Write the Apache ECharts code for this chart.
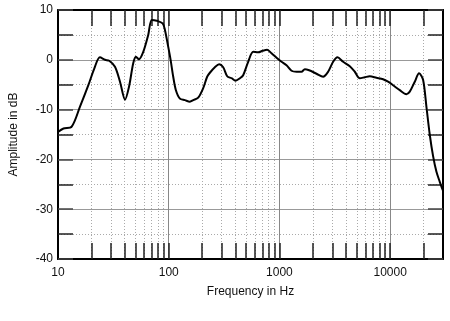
<!DOCTYPE html>
<html>
<head>
<meta charset="utf-8">
<script src="https://cdn.jsdelivr.net/npm/echarts@6/dist/echarts.min.js"></script>
<style>
  html, body { margin: 0; padding: 0; background: #fff; }
  #chart { width: 450px; height: 321px; }
</style>
</head>
<body>
<div id="chart"></div>
<script>
// frequency response
var freqs = [10, 11.2, 13.3, 15.8, 18.8, 21.3, 23.9, 26.6, 29.0, 32.7, 36.3, 40.3, 43.8, 47.8, 50.6, 53.8, 58.9,
  65.3, 70.3, 77.8, 88.1, 92.4, 99.0, 104, 109.8, 116.1, 126.2, 140, 155.4, 166.4, 184.6, 204.8, 222.4,
  235.3, 261, 285.6, 310.5, 337.4, 369.5, 401.6, 439.5, 470.2, 522, 579.5, 642.7, 703.3, 774, 848.5,
  941.5, 1044, 1158, 1285, 1426, 1582, 1694, 1853, 2162, 2480, 2752, 3054, 3343, 3758, 4318, 4791,
  5316, 5898, 6544, 7520, 8630, 9570, 10620, 12210, 14030, 15030, 16680, 18240, 19820, 21270, 22770,
  24390, 26180, 28050, 30000];
var amps = [-14.5, -13.8, -13.4, -9.4, -5.1, -1.7, 0.5, 0.0, -0.2, -1.4, -4.4, -8.0, -5.4, -0.7, 0.6, 0.1, 1.6,
  5.0, 8.0, 7.85, 7.3, 6.0, 2.6, 0.0, -3.4, -6.1, -7.8, -8.1, -8.4, -8.1, -7.6, -5.7, -3.4,
  -2.6, -1.5, -0.9, -1.5, -3.3, -3.7, -4.2, -3.7, -3.1, -0.4, 1.6, 1.5, 1.8, 2.0, 1.3,
  0.4, -0.4, -1.1, -2.2, -2.4, -2.4, -1.9, -2.1, -2.8, -3.4, -2.4, -0.4, 0.5, -0.4, -1.3, -2.4,
  -3.7, -3.5, -3.3, -3.6, -3.9, -4.4, -5.1, -6.1, -6.9, -6.4, -4.4, -2.7, -4.0, -9.5, -15.0,
  -19.3, -22.5, -24.5, -26.3];

var decades = [10, 100, 1000, 10000];
var allTicks = [20, 30, 40, 50, 60, 70, 80, 90, 100, 200, 300, 400, 500, 600, 700, 800, 900,
  1000, 2000, 3000, 4000, 5000, 6000, 7000, 8000, 9000, 10000, 20000];

var font = 'Liberation Sans';
var chart = echarts.init(document.getElementById('chart'));

var points = freqs.map(function (f, i) { return [f, amps[i]]; });

var baseX = {
  type: 'log', logBase: 10, min: 10, max: 30000
};
var edge = { show: true, onZero: false, lineStyle: { color: '#000', width: 2 } };

option = {
  animation: false,
  backgroundColor: '#fff',
  grid: { left: 58, right: 7, top: 10, bottom: 62, show: false },
  xAxis: [
    Object.assign({}, baseX, {
      position: 'bottom',
      name: 'Frequency in Hz', nameLocation: 'middle', nameGap: 27,
      nameTextStyle: { fontFamily: font, fontSize: 12, color: '#111' },
      axisLine: edge,
      axisTick: { show: true, inside: true, length: 16, customValues: allTicks, lineStyle: { color: '#222', width: 1.5 } },
      axisLabel: {
        customValues: decades, margin: 8, fontFamily: font, fontSize: 12, color: '#111',
        formatter: function (v) { return String(Math.round(v)); }
      },
      splitLine: { show: true, lineStyle: { color: '#aaa', type: [1, 2], width: 1 } }
    }),
    Object.assign({}, baseX, {
      position: 'top',
      axisLine: edge,
      axisTick: { show: true, inside: true, length: 16, customValues: allTicks, lineStyle: { color: '#222', width: 1.5 } },
      axisLabel: { show: false },
      splitLine: { show: false }
    }),
    Object.assign({}, baseX, {
      position: 'bottom',
      axisLine: { show: false, onZero: false },
      axisTick: { show: false, customValues: decades },
      axisLabel: { show: false },
      splitLine: { show: true, lineStyle: { color: '#888', width: 1 } }
    })
  ],
  yAxis: [
    {
      type: 'value', min: -40, max: 10, interval: 10, position: 'left',
      name: 'Amplitude in dB', nameLocation: 'middle', nameGap: 38,
      nameTextStyle: { fontFamily: font, fontSize: 12, color: '#111' },
      axisLine: edge,
      axisTick: { show: true, inside: true, length: 15, lineStyle: { color: '#444', width: 1.5 } },
      minorTick: { show: true, splitNumber: 2, length: 15, lineStyle: { color: '#222', width: 1.5 } },
      axisLabel: { margin: 5, fontFamily: font, fontSize: 12, color: '#111' },
      splitLine: { show: true, lineStyle: { color: '#999', width: 1 } },
      minorSplitLine: { show: true, lineStyle: { color: '#aaa', type: [1, 2], width: 1 } }
    },
    {
      type: 'value', min: -40, max: 10, interval: 10, position: 'right',
      axisLine: edge,
      axisTick: { show: true, inside: true, length: 15, lineStyle: { color: '#444', width: 1.5 } },
      minorTick: { show: true, splitNumber: 2, length: 15, lineStyle: { color: '#222', width: 1.5 } },
      axisLabel: { show: false },
      splitLine: { show: false }
    }
  ],
  series: [{
    type: 'line',
    data: points,
    smooth: 0.3,
    showSymbol: false,
    clip: true,
    lineStyle: { color: '#000', width: 2 },
    z: 10
  }]
};

chart.setOption(option);
</script>
</body>
</html>
